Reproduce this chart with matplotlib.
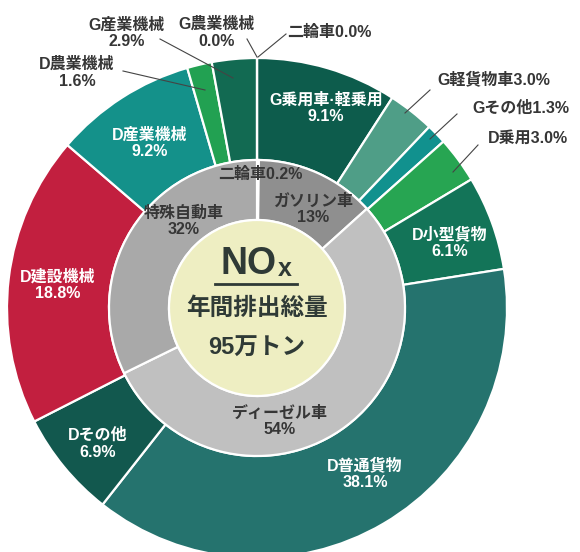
import matplotlib.pyplot as plt
from matplotlib.patches import Circle

plt.rcParams['font.family'] = ['Liberation Sans', 'Noto Sans CJK JP', 'DejaVu Sans']

# outer ring, clockwise from 12 o'clock
outer_names = ['二輪車', 'G乗用車·軽乗用', 'G軽貨物車', 'Gその他', 'D乗用', 'D小型貨物',
               'D普通貨物', 'Dその他', 'D建設機械', 'D産業機械', 'D農業機械', 'G産業機械', 'G農業機械']
outer_vals = [0.0, 9.1, 3.0, 1.3, 3.0, 6.1, 38.1, 6.9, 18.8, 9.2, 1.6, 2.9, 0.0]
outer_colors = ['#0d5c4c', '#0d5c4c', '#4f9e87', '#11918e', '#27a552', '#137458',
                '#25736e', '#12584e', '#c21f3f', '#14918a', '#22a152', '#126a52', '#126a52']

# inner ring
inner_names = ['二輪車', 'ガソリン車', 'ディーゼル車', '特殊自動車']
inner_vals = [0.2, 13, 54, 32]
inner_colors = ['#9a9a9a', '#8f8f8f', '#c0c0c0', '#a9a9a9']

total_label = ['年間排出総量', '95万トン']

# layout (pixels, origin top-left)
cx, cy = 257, 308
r_out, r_mid, r_in = 250, 148, 88
dark = '#363636'

fig = plt.figure(figsize=(5.8, 5.52), dpi=100)
ax = fig.add_axes([0, 0, 1, 1])

# y axis inverted -> counterclock=True draws clockwise on screen
ax.pie(outer_vals, colors=outer_colors, radius=r_out, center=(cx, cy),
       startangle=-90, counterclock=True,
       wedgeprops=dict(width=r_out - r_mid, edgecolor='white', linewidth=1.6))
ax.pie(inner_vals, colors=inner_colors, radius=r_mid, center=(cx, cy),
       startangle=-90, counterclock=True,
       wedgeprops=dict(width=r_mid - r_in, edgecolor='white', linewidth=1.6))
ax.add_patch(Circle((cx, cy), r_in, facecolor='#eeeec2', edgecolor='white', linewidth=1.6, zorder=3))

ax.set_xlim(0, 580)
ax.set_ylim(552, 0)
ax.axis('off')

# labels inside the outer ring (white)
inside = {
    1: (326, 108),
    5: (450, 243),
    6: (365, 474),
    7: (98, 444),
    8: (58, 285),
    9: (150, 143),
}
for i, (x, y) in inside.items():
    ax.text(x, y, f'{outer_names[i]}\n{outer_vals[i]:.1f}%', color='white', fontsize=11.5,
            fontweight='bold', ha='center', va='center', linespacing=1.15, zorder=5)

# labels outside with leader lines (text pos, line start, line end, ha, two lines)
outside = {
    0: ((287, 32), (286, 34), (258, 57), 'left', False),
    2: ((437, 79), (430, 90), (405, 113), 'left', False),
    3: ((472, 108), (457, 114), (430, 139), 'left', False),
    4: ((488, 138), (478, 145), (453, 172), 'left', False),
    10: ((77, 73), (123, 71), (205, 90), 'center', True),
    11: ((127, 33), (160, 39), (233, 78), 'center', True),
    12: ((217, 33), (247, 39), (257, 57), 'center', True),
}
for i, (tp, p0, p1, ha, two) in outside.items():
    txt = f'{outer_names[i]}\n{outer_vals[i]:.1f}%' if two else f'{outer_names[i]}{outer_vals[i]:.1f}%'
    ax.text(tp[0], tp[1], txt, color=dark, fontsize=11.5, fontweight='bold',
            ha=ha, va='center', linespacing=1.15, zorder=5)
    ax.plot([p0[0], p1[0]], [p0[1], p1[1]], color='#444444', linewidth=0.8, zorder=4)

# inner ring labels
inner_pos = [(260, 174), (313, 209), (280, 421), (184, 221)]
for i, (x, y) in enumerate(inner_pos):
    if i == 0:
        txt = f'{inner_names[i]}{inner_vals[i]}%'
    else:
        txt = f'{inner_names[i]}\n{inner_vals[i]}%'
    ax.text(x, y, txt, color=dark, fontsize=11.5, fontweight='bold',
            ha='center', va='center', linespacing=1.1, zorder=5)

# centre text
ax.text(277, 264, 'NO', color='#2f3a36', fontsize=27, fontweight='bold', ha='right', va='center', zorder=6)
ax.text(278, 269, 'x', color='#2f3a36', fontsize=18, fontweight='bold', ha='left', va='center', zorder=6)
ax.plot([215, 297], [284, 284], color='#2f3a36', linewidth=2, zorder=6)
ax.text(257, 308, total_label[0], color='#2f3a36', fontsize=17, fontweight='bold',
        ha='center', va='center', zorder=6)
ax.text(257, 348, total_label[1], color='#2f3a36', fontsize=17, fontweight='bold',
        ha='center', va='center', zorder=6)

fig.savefig('out.png', dpi=100, facecolor='white')
